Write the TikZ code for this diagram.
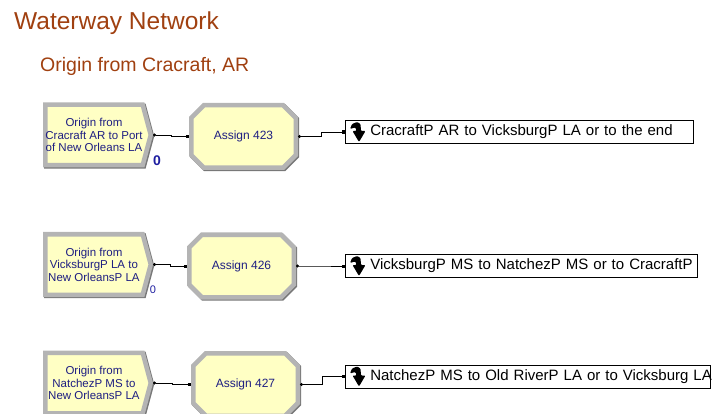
\documentclass[tikz,border=0pt]{standalone}
\usepackage{fontspec}
\setmainfont{Liberation Sans}
\usetikzlibrary{shapes.symbols,shapes.misc,arrows.meta,calc}

\definecolor{titlebrown}{RGB}{160,64,16}
\definecolor{modfill}{RGB}{255,255,196}
\definecolor{modframe}{RGB}{180,180,180}
\definecolor{modshade}{RGB}{120,120,120}
\definecolor{modtext}{RGB}{30,30,130}
\definecolor{cntblue}{RGB}{30,30,160}

\tikzset{
  module/.style={fill=modfill, draw=modframe, line width=4.5pt,
    preaction={draw=modshade, line width=4.5pt, transform canvas={shift={(1.2pt,-1.2pt)}}},
    text=modtext, align=center, inner sep=0pt},
  createbox/.style={module, shape=signal, signal to=east, signal pointer angle=150,
    minimum width=105.5pt, minimum height=60.5pt, anchor=west,
    font=\fontsize{11.5}{12.5}\selectfont},
  assignbox/.style={module, chamfered rectangle, chamfered rectangle xsep=7pt,
    chamfered rectangle ysep=7pt, minimum width=104.5pt, minimum height=62.5pt,
    font=\fontsize{12}{14}\selectfont},
  routebox/.style={draw=black, fill=white, line width=0.6pt, anchor=west,
    inner xsep=0pt, inner ysep=0pt, minimum height=23pt, text width=#1, align=left,
    font=\fontsize{15}{17}\selectfont,
    execute at begin node={\hspace*{25pt}\hbox\bgroup}, execute at end node={\egroup}},
  conn/.style={line width=0.6pt, {Circle[length=3pt]}-{Square[length=3pt]}},
  counter/.style={text=cntblue, inner sep=0pt},
  routeicon/.pic={
    \fill[rounded corners=1pt] (-8,-2) -- (-6,-7) -- (-1,-9) -- (2.5,-7) -- (3,0) -- (7.5,0)
      -- (1,11) -- (-5.5,0) -- (-1.5,0) -- (-2.5,-3.5) -- (-5,-3) -- cycle;
  }
}

\begin{document}
\begin{tikzpicture}[x=1pt, y=-1pt]
  \useasboundingbox (0,0) rectangle (712,414);
  \clip (0,0) rectangle (712,414);
  % Titles
  \node[anchor=base west, text=titlebrown, font=\fontsize{24.5}{26}\selectfont, inner sep=0pt]
    (title) at (14,30) {Waterway Network};
  \node[anchor=base west, text=titlebrown, font=\fontsize{19.5}{22}\selectfont, inner sep=0pt]
    (subtitle) at (40,72) {Origin from Cracraft, AR};
  % Row 1
  \node[createbox] (c1) at (43,135) {Origin from\\Cracraft AR to Port\\of New Orleans LA};
  \node[assignbox] (a1) at (243.5,136.5) {Assign 423};
  \node[routebox=348pt] (r1) at (345,132) {CracraftP AR to VicksburgP LA or to the end};
  \node[counter, font=\bfseries\fontsize{14}{14}\selectfont] (n1) at (157,161) {0};
  % Row 2
  \node[createbox] (c2) at (43,264.5) {Origin from\\VicksburgP LA to\\New OrleansP LA};
  \node[assignbox] (a2) at (241.5,266) {Assign 426};
  \node[routebox=352pt] (r2) at (345,266) {VicksburgP MS to NatchezP MS or to CracraftP};
  \node[counter, font=\fontsize{11}{11}\selectfont] (n2) at (153,290) {0};
  % Row 3
  \node[createbox] (c3) at (43,383) {Origin from\\NatchezP MS to\\New OrleansP LA};
  \node[assignbox] (a3) at (245.5,384.5) {Assign 427};
  \node[routebox=365pt] (r3) at (345,376.5) {NatchezP MS to Old RiverP LA or to Vicksburg LA};
  % Route icons
  \foreach \r in {r1,r2,r3}
    \pic at ($(\r.west)+(13,-1)$) {routeicon};
  % Connectors
  \foreach \i in {1,2,3} {
    \draw[conn] (c\i.east) -| ($(c\i.east)!0.5!(a\i.west)$) |- (a\i.west);
    \draw[conn] (a\i.east) -| ($(a\i.east)!0.5!(r\i.west)$) |- (r\i.west);
  }
\end{tikzpicture}
\end{document}
